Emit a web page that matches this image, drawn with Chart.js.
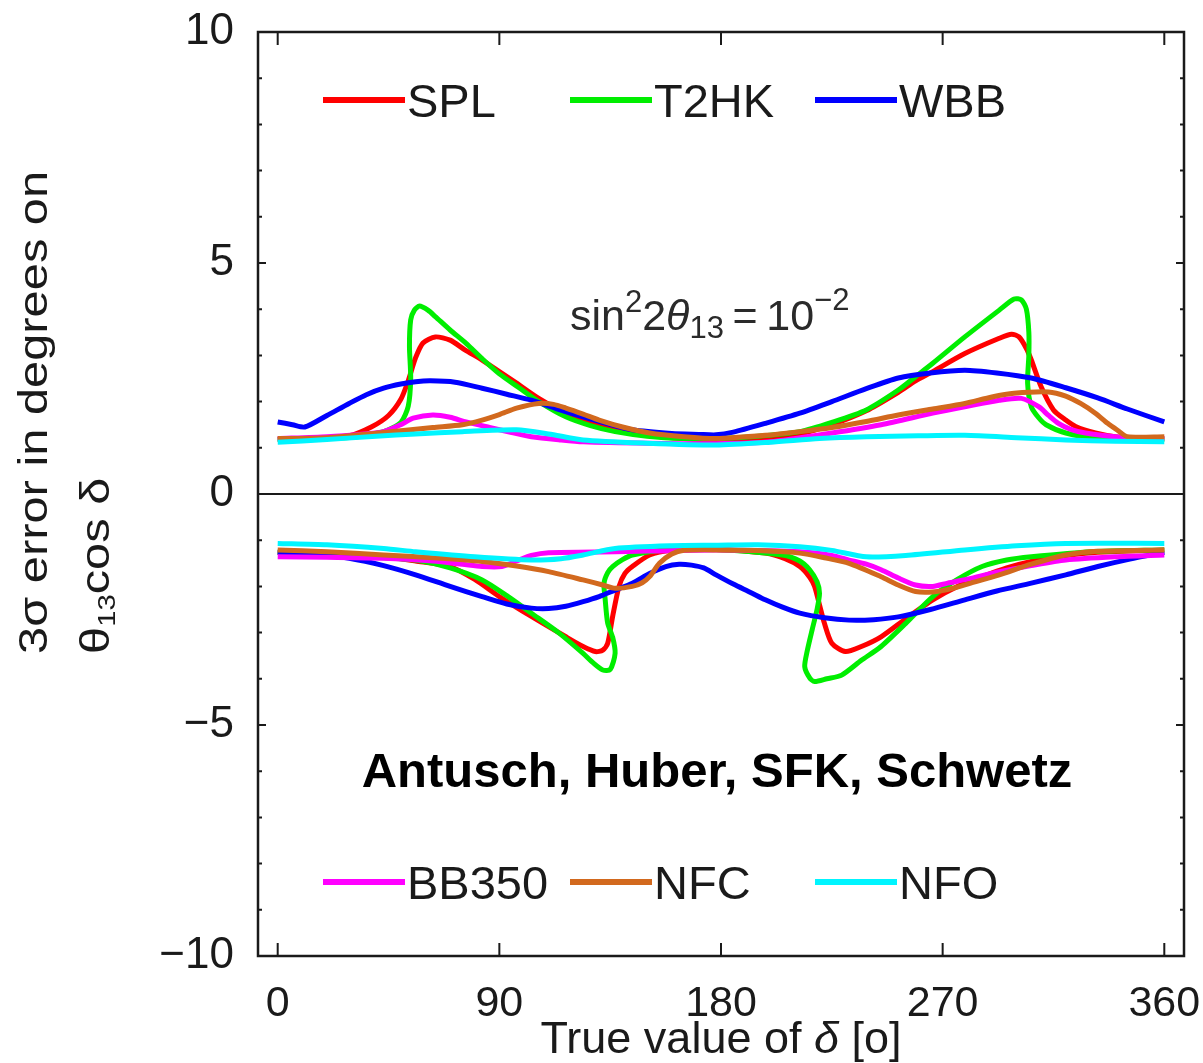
<!DOCTYPE html>
<html>
<head>
<meta charset="utf-8">
<script src="https://cdn.jsdelivr.net/npm/chart.js@4.4.0/dist/chart.umd.min.js"></script>
<style>
    html, body { margin: 0; padding: 0; background: #fff; }
</style>
</head>
<body>
<canvas id="deltaChart" width="1203" height="1063"></canvas>
<script>
// true delta in degrees vs 3 sigma error on theta13 cos(delta)
const deltaTicks = [0, 90, 180, 270, 360];
const errorTicks = [-10, -5, 0, 5, 10];

const experiments = ["SPL", "T2HK", "WBB", "BB350", "NFC", "NFO"];
const colors = ["#ff0000", "#00ee00", "#0000ff", "#ff00ff", "#d2691e", "#00f5ff"];

// upper branch (positive error)
const splUpper = [[0,1.18],[15,1.2],[29,1.26],[38,1.45],[45,1.7],[50,2.05],[53,2.45],[56,2.95],[59,3.27],[64,3.4],[70,3.33],[76,3.12],[83,2.9],[90,2.65],[97,2.4],[106,2.07],[115,1.8],[124,1.6],[134,1.45],[144,1.32],[160,1.22],[178,1.17],[195,1.18],[212,1.3],[225,1.5],[239,1.8],[252,2.2],[259,2.45],[266,2.65],[279,3.04],[293,3.37],[298,3.46],[301,3.4],[304,3.15],[306,2.9],[310,2.32],[315,1.82],[320,1.6],[324,1.46],[332,1.32],[340,1.24],[350,1.2],[360,1.2]];
const t2hkUpper = [[0,1.18],[15,1.2],[29,1.22],[43,1.35],[50,1.55],[53,1.9],[54,2.5],[53.5,3.2],[54,3.77],[55.5,3.98],[57.6,4.07],[61,3.98],[64,3.84],[70,3.55],[76.5,3.26],[83,2.93],[90,2.6],[98,2.3],[106,2.0],[117,1.67],[127,1.48],[137,1.35],[150,1.25],[165,1.2],[178,1.2],[195,1.25],[212,1.35],[225,1.55],[239,1.82],[252,2.25],[259,2.54],[266,2.83],[279,3.4],[293,3.98],[299,4.22],[302,4.2],[304,4.0],[305,3.5],[305,3.0],[304.5,2.4],[306,1.89],[309,1.65],[312,1.5],[320,1.32],[333,1.2],[345,1.18],[360,1.18]];
const wbbUpper = [[0,1.56],[6,1.5],[11,1.45],[20,1.7],[29,1.96],[36,2.15],[43,2.29],[50,2.38],[56,2.43],[62,2.45],[72,2.42],[83,2.29],[93,2.16],[103,2.03],[113,1.85],[124,1.67],[134,1.52],[144,1.39],[160,1.31],[171,1.29],[178,1.28],[185,1.34],[198,1.53],[212,1.75],[225,2.0],[239,2.28],[252,2.51],[265,2.62],[279,2.68],[292,2.62],[306,2.51],[320,2.3],[333,2.08],[345,1.84],[360,1.56]];
const bb350Upper = [[0,1.2],[20,1.24],[35,1.3],[43,1.35],[50,1.5],[55,1.64],[63,1.71],[70,1.66],[76.5,1.56],[86,1.44],[95,1.33],[103,1.24],[115,1.17],[124,1.13],[150,1.1],[178,1.09],[200,1.13],[225,1.32],[245,1.5],[266,1.75],[280,1.9],[293,2.03],[302,2.07],[309,1.89],[313,1.7],[317,1.53],[322,1.4],[328,1.32],[340,1.24],[360,1.2]];
const nfcUpper = [[0,1.2],[20,1.22],[43,1.33],[63,1.44],[75,1.5],[83,1.6],[90,1.72],[97,1.86],[106,1.96],[112,1.94],[117,1.86],[124,1.73],[130.5,1.6],[140,1.45],[151,1.32],[165,1.24],[178,1.2],[198,1.27],[212,1.35],[225,1.44],[239,1.57],[252,1.71],[266,1.84],[279,1.96],[290,2.1],[299,2.18],[313,2.21],[320,2.12],[326,1.96],[332,1.75],[337,1.53],[341,1.38],[345,1.24],[360,1.24]];
const nfoUpper = [[0,1.12],[20,1.18],[40,1.25],[56,1.3],[75,1.35],[97,1.39],[110,1.3],[124,1.17],[150,1.1],[178,1.06],[200,1.12],[220,1.2],[239,1.24],[260,1.26],[279,1.27],[300,1.22],[320,1.17],[340,1.14],[360,1.13]];

// lower branch (negative error)
const splLower = [[0,-1.26],[20,-1.3],[43,-1.36],[56,-1.45],[70,-1.57],[80,-1.85],[90,-2.22],[103,-2.65],[117,-3.09],[124,-3.3],[129,-3.41],[132,-3.38],[134,-3.23],[136,-2.65],[138.6,-2.0],[141,-1.72],[144,-1.57],[151,-1.32],[160,-1.22],[178,-1.2],[198,-1.28],[206,-1.4],[212,-1.57],[216,-1.8],[218,-2.0],[220,-2.4],[222,-2.8],[225,-3.23],[230.5,-3.41],[237,-3.3],[245,-3.09],[255,-2.7],[266,-2.29],[276,-2.0],[286,-1.79],[296,-1.6],[306,-1.46],[320,-1.33],[333,-1.26],[360,-1.21]];
const t2hkLower = [[0,-1.26],[20,-1.3],[43,-1.38],[56,-1.43],[70,-1.6],[83,-1.86],[93,-2.2],[103,-2.58],[114,-3.0],[124,-3.45],[128,-3.65],[132,-3.81],[135,-3.8],[137,-3.45],[136,-3.1],[134,-2.8],[133,-2.3],[132.5,-1.93],[134,-1.7],[136,-1.57],[140,-1.42],[144,-1.32],[157,-1.21],[178,-1.2],[205,-1.32],[212,-1.45],[216,-1.64],[219,-1.9],[220,-2.15],[219,-2.5],[217,-2.94],[215,-3.4],[214,-3.74],[216,-3.98],[218,-4.06],[223,-4.0],[229,-3.92],[237,-3.6],[245,-3.3],[255,-2.8],[266,-2.22],[276,-1.85],[286,-1.57],[296,-1.43],[306,-1.36],[330,-1.25],[360,-1.21]];
const wbbLower = [[0,-1.26],[15,-1.3],[29,-1.39],[43,-1.55],[56,-1.75],[70,-2.0],[83,-2.22],[93,-2.38],[103,-2.47],[110,-2.48],[117,-2.43],[124,-2.33],[130.5,-2.22],[137,-2.08],[144,-1.93],[151,-1.72],[157.6,-1.57],[163,-1.52],[168,-1.54],[173,-1.6],[178,-1.75],[185,-1.95],[192,-2.13],[198,-2.29],[205,-2.45],[212,-2.58],[222,-2.68],[232,-2.73],[242,-2.72],[252,-2.66],[265,-2.5],[279,-2.29],[292,-2.1],[306,-1.93],[320,-1.75],[333,-1.57],[346,-1.41],[360,-1.26]];
const bb350Lower = [[0,-1.36],[20,-1.37],[43,-1.39],[63,-1.45],[75,-1.52],[83,-1.57],[91,-1.57],[97,-1.45],[103,-1.33],[110,-1.27],[137,-1.25],[178,-1.21],[212,-1.25],[225,-1.33],[232,-1.43],[239,-1.52],[245,-1.64],[252,-1.82],[259,-1.97],[266,-2.0],[272,-1.93],[282,-1.82],[293,-1.68],[306,-1.55],[320,-1.43],[340,-1.36],[360,-1.32]];
const nfcLower = [[0,-1.21],[20,-1.25],[43,-1.32],[63,-1.38],[83,-1.46],[97,-1.56],[110,-1.68],[124,-1.86],[132,-1.97],[137,-2.04],[144,-2.0],[148,-1.92],[151,-1.79],[155,-1.5],[160,-1.3],[165,-1.22],[178,-1.21],[198,-1.23],[212,-1.28],[222,-1.38],[232,-1.5],[245,-1.79],[252,-1.97],[259,-2.11],[266,-2.12],[272,-2.07],[282,-1.92],[293,-1.75],[306,-1.52],[320,-1.32],[333,-1.24],[360,-1.21]];
const nfoLower = [[0,-1.07],[20,-1.1],[43,-1.18],[56,-1.25],[80,-1.36],[103,-1.43],[115,-1.4],[124,-1.32],[137,-1.18],[160,-1.12],[178,-1.11],[195,-1.1],[212,-1.14],[225,-1.22],[239,-1.36],[255,-1.33],[279,-1.21],[300,-1.12],[320,-1.07],[360,-1.07]];

const upperCurves = [splUpper, t2hkUpper, wbbUpper, bb350Upper, nfcUpper, nfoUpper];
const lowerCurves = [splLower, t2hkLower, wbbLower, bb350Lower, nfcLower, nfoLower];

const FONT = "'Liberation Sans', Arial, Helvetica, sans-serif";
const INK = "#1a1a1a";

const makeDataset = (name, i, pts) => ({
    label: name,
    data: pts.map(([x, y]) => ({ x: x, y: y })),
    borderColor: colors[i],
    backgroundColor: colors[i],
    borderWidth: 5,
    pointRadius: 0,
    showLine: true,
    fill: false,
    tension: 0.25,
    // later experiments sit on top
    order: experiments.length - i,
});

const datasets = [];
experiments.forEach((name, i) => {
    datasets.push(makeDataset(name, i, upperCurves[i]));
    datasets.push(makeDataset(name, i, lowerCurves[i]));
});

// frame with inward ticks on all four sides, plus the zero line
const framePlugin = {
    id: "frame",
    afterDatasetsDraw(chart) {
        const { ctx, chartArea: a, scales } = chart;
        const xs = scales.x, ys = scales.y;
        ctx.save();
        ctx.strokeStyle = INK;
        ctx.lineWidth = 2;
        const y0 = ys.getPixelForValue(0);
        ctx.beginPath();
        ctx.moveTo(a.left, y0);
        ctx.lineTo(a.right, y0);
        ctx.stroke();

        ctx.lineWidth = 2.5;
        ctx.strokeRect(a.left, a.top, a.right - a.left, a.bottom - a.top);

        ctx.lineWidth = 2;
        ctx.beginPath();
        for (let v = -10; v <= 10; v++) {
            const py = ys.getPixelForValue(v);
            const len = v % 5 === 0 ? 8 : 4;
            ctx.moveTo(a.left, py);
            ctx.lineTo(a.left + len, py);
            ctx.moveTo(a.right, py);
            ctx.lineTo(a.right - len, py);
        }
        deltaTicks.forEach((d) => {
            const px = xs.getPixelForValue(d);
            ctx.moveTo(px, a.bottom);
            ctx.lineTo(px, a.bottom - 13);
            ctx.moveTo(px, a.top);
            ctx.lineTo(px, a.top + 13);
        });
        ctx.stroke();
        ctx.restore();
    },
};

const runsWidth = (ctx, runs) => runs.reduce((w, r) => {
    ctx.font = (r.bold ? "bold " : "") + (r.italic ? "italic " : "") + r.size + "px " + FONT;
    return w + ctx.measureText(r.t).width;
}, 0);

// draws a run of text pieces (sub/superscripts, italics) left to right
const drawRuns = (ctx, x, y, runs) => {
    runs.forEach((r) => {
        ctx.font = (r.bold ? "bold " : "") + (r.italic ? "italic " : "") + r.size + "px " + FONT;
        ctx.fillText(r.t, x, y + (r.dy || 0));
        x += ctx.measureText(r.t).width;
    });
};

const labelsPlugin = {
    id: "labels",
    afterDraw(chart) {
        const { ctx, chartArea: a } = chart;
        ctx.save();
        ctx.fillStyle = INK;
        ctx.textAlign = "left";
        ctx.textBaseline = "alphabetic";

        // two legend rows, upper and lower part of the frame
        const rows = [
            { y: a.top + 68, items: [0, 1, 2] },
            { y: a.bottom - 74, items: [3, 4, 5] },
        ];
        const slots = [a.left + 65, a.left + 312, a.left + 557];
        rows.forEach((row) => {
            row.items.forEach((i, k) => {
                const x = slots[k];
                ctx.strokeStyle = colors[i];
                ctx.lineWidth = 6;
                ctx.beginPath();
                ctx.moveTo(x, row.y);
                ctx.lineTo(x + 82, row.y);
                ctx.stroke();
                ctx.fillStyle = INK;
                ctx.font = "47px " + FONT;
                ctx.fillText(experiments[i], x + 84, row.y + 17);
            });
        });

        ctx.fillStyle = "#2a2a2a";
        drawRuns(ctx, 570, 330, [
            { t: "sin", size: 43 },
            { t: "2", size: 31, dy: -18 },
            { t: "2", size: 43 },
            { t: "θ", size: 43, italic: true },
            { t: "13", size: 31, dy: 8 },
            { t: "\u2009=\u2009", size: 43 },
            { t: "10", size: 43 },
            { t: "−2", size: 31, dy: -20 },
        ]);

        ctx.fillStyle = "#000";
        ctx.font = "bold 49px " + FONT;
        ctx.textAlign = "center";
        ctx.fillText("Antusch, Huber, SFK, Schwetz", 717, 787);
        ctx.textAlign = "left";

        // x title, centred under the frame
        ctx.fillStyle = INK;
        const xTitle = [
            { t: "True value of ", size: 45 },
            { t: "δ", size: 45, italic: true },
            { t: " [o]", size: 45 },
        ];
        const cx = (a.left + a.right) / 2;
        drawRuns(ctx, cx - runsWidth(ctx, xTitle) / 2, 1053, xTitle);

        // rotated y title, both lines start at the same height
        const yTitle = [
            { x: 47, runs: [{ t: "3σ error in degrees on", size: 40 }] },
            { x: 109, runs: [{ t: "θ", size: 40 }, { t: "13", size: 24, dy: 6 }, { t: "cos δ", size: 40 }] },
        ];
        yTitle.forEach((line) => {
            ctx.save();
            ctx.translate(line.x, 654);
            ctx.rotate(-Math.PI / 2);
            ctx.scale(1.22, 1);
            drawRuns(ctx, 0, 0, line.runs);
            ctx.restore();
        });
        ctx.restore();
    },
};

new Chart(document.getElementById("deltaChart"), {
    type: "scatter",
    data: { datasets: datasets },
    options: {
        responsive: false,
        animation: false,
        layout: { padding: { top: 32, right: 19, left: 0, bottom: 0 } },
        plugins: {
            legend: { display: false },
            tooltip: { enabled: false },
        },
        scales: {
            x: {
                type: "linear",
                min: -8,
                max: 368,
                afterBuildTicks: (s) => {
                    s.ticks = deltaTicks.map((v) => ({ value: v }));
                },
                afterFit: (s) => {
                    s.height = 107;
                    s.paddingLeft = 0;
                    s.paddingRight = 0;
                },
                grid: { display: false },
                border: { display: false },
                ticks: {
                    color: INK,
                    font: { family: FONT, size: 43 },
                    padding: 14,
                    maxRotation: 0,
                    autoSkip: false,
                },
            },
            y: {
                type: "linear",
                min: -10,
                max: 10,
                afterBuildTicks: (s) => {
                    s.ticks = errorTicks.map((v) => ({ value: v }));
                },
                afterFit: (s) => {
                    s.width = 258;
                    s.paddingTop = 0;
                    s.paddingBottom = 0;
                },
                grid: { display: false },
                border: { display: false },
                ticks: {
                    color: INK,
                    font: { family: FONT, size: 44 },
                    padding: 16,
                    callback: (v) => (v < 0 ? "\u2212" + Math.abs(v) : String(v)),
                },
            },
        },
    },
    plugins: [framePlugin, labelsPlugin],
});
</script>
</body>
</html>
